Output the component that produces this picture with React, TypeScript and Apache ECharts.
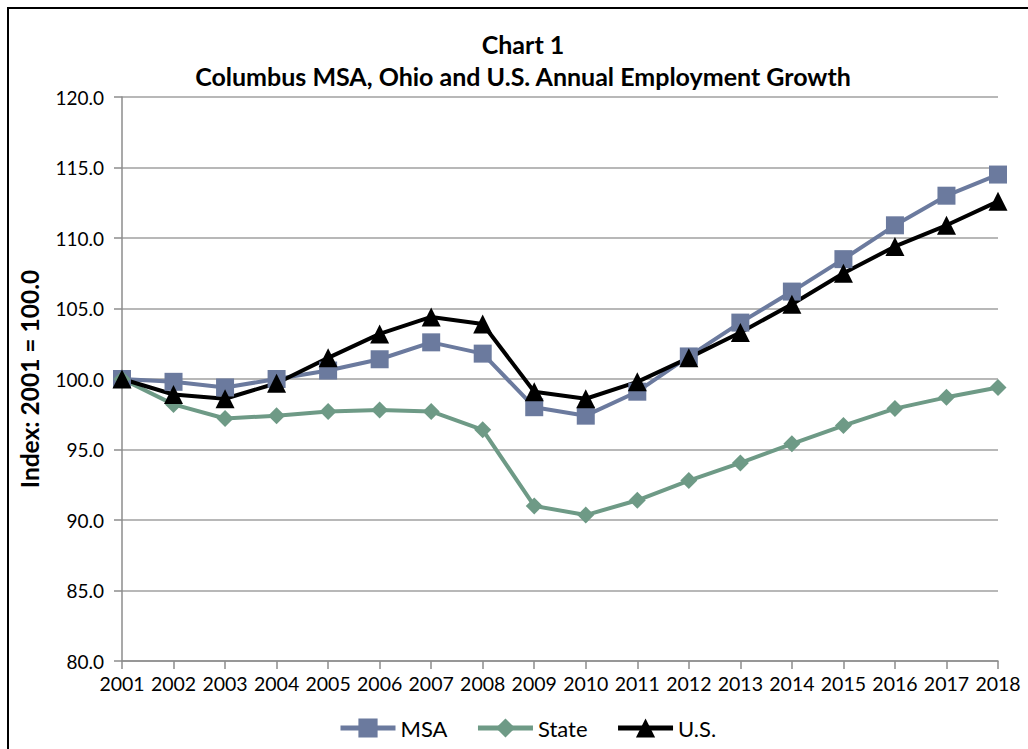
import React, { useEffect, useRef } from "react";
import * as echarts from "echarts";

const years = ["2001","2002","2003","2004","2005","2006","2007","2008","2009","2010","2011","2012","2013","2014","2015","2016","2017","2018"];
const msa = [100.0, 99.8, 99.4, 100.0, 100.6, 101.4, 102.6, 101.8, 98.0, 97.4, 99.1, 101.6, 104.0, 106.2, 108.5, 110.9, 113.0, 114.5];
const state = [100.0, 98.2, 97.2, 97.4, 97.7, 97.8, 97.7, 96.4, 91.0, 90.35, 91.4, 92.8, 94.05, 95.4, 96.7, 97.9, 98.7, 99.4];
const us = [100.0, 98.9, 98.6, 99.7, 101.5, 103.2, 104.4, 103.9, 99.1, 98.6, 99.8, 101.5, 103.3, 105.3, 107.5, 109.4, 110.9, 112.6];
const titleLines = ["Chart 1", "Columbus MSA, Ohio and U.S. Annual Employment Growth"];

const FONT = "Lato";

export default function App() {
  const ref = useRef<HTMLDivElement>(null);
  useEffect(() => {
    document.body.style.margin = "0";
    const chart = echarts.init(ref.current!, undefined, { renderer: "svg" });
    const lineSeries = (name: string, data: number[], color: string, symbol: string, size: number) => ({
      name,
      type: "line",
      data,
      symbol,
      symbolSize: size,
      lineStyle: { color, width: 4 },
      itemStyle: { color },
      emphasis: { disabled: true },
    });
    chart.setOption({
      animation: false,
      textStyle: { fontFamily: FONT },
      graphic: [
        {
          type: "rect",
          shape: { x: 8, y: 8, width: 1200, height: 900 },
          style: { fill: "none", stroke: "#000", lineWidth: 2 },
          silent: true,
        },
        ...titleLines.map((t, i) => ({
          type: "text",
          x: 523,
          y: 44 + i * 32,
          silent: true,
          style: {
            text: t,
            fill: "#000",
            font: `bold 25px ${FONT}`,
            textAlign: "center",
            textVerticalAlign: "middle",
          },
        })),
      ],
      legend: {
        bottom: 5,
        left: 333,
        itemWidth: 55,
        itemHeight: 24,
        itemGap: 28,
        lineStyle: { width: 5 },
        textStyle: { fontFamily: FONT, fontSize: 22, color: "#000" },
        data: ["MSA", "State", "U.S."],
      },
      grid: { left: 122, right: 30, top: 97, bottom: 88 },
      xAxis: {
        type: "category",
        data: years,
        boundaryGap: false,
        axisLine: { lineStyle: { color: "#8c8c8c", width: 1.5 } },
        axisTick: { show: true, interval: 0, length: 8, lineStyle: { color: "#8c8c8c", width: 1.5 } },
        axisLabel: { interval: 0, fontFamily: FONT, fontSize: 19.5, color: "#000", margin: 12 },
      },
      yAxis: {
        type: "value",
        min: 80,
        max: 120,
        interval: 5,
        name: "Index: 2001 = 100.0",
        nameLocation: "middle",
        nameGap: 80,
        nameTextStyle: { fontFamily: FONT, fontWeight: "bold", fontSize: 24.5, color: "#000" },
        axisLine: { show: true, lineStyle: { color: "#8c8c8c", width: 1.5 } },
        axisTick: { show: true, length: 8, lineStyle: { color: "#8c8c8c", width: 1.5 } },
        splitLine: { lineStyle: { color: "#a0a0a0", width: 1.5 } },
        axisLabel: { fontFamily: FONT, fontSize: 19, color: "#000", margin: 18, formatter: (v: number) => v.toFixed(1) },
      },
      series: [
        lineSeries("MSA", msa, "#6b7a9e", "rect", 18),
        lineSeries("State", state, "#6e9a86", "diamond", 17),
        lineSeries("U.S.", us, "#000000", "triangle", 19),
      ],
    });
    return () => chart.dispose();
  }, []);
  return <div ref={ref} style={{ width: 1028, height: 749 }} />;
}
